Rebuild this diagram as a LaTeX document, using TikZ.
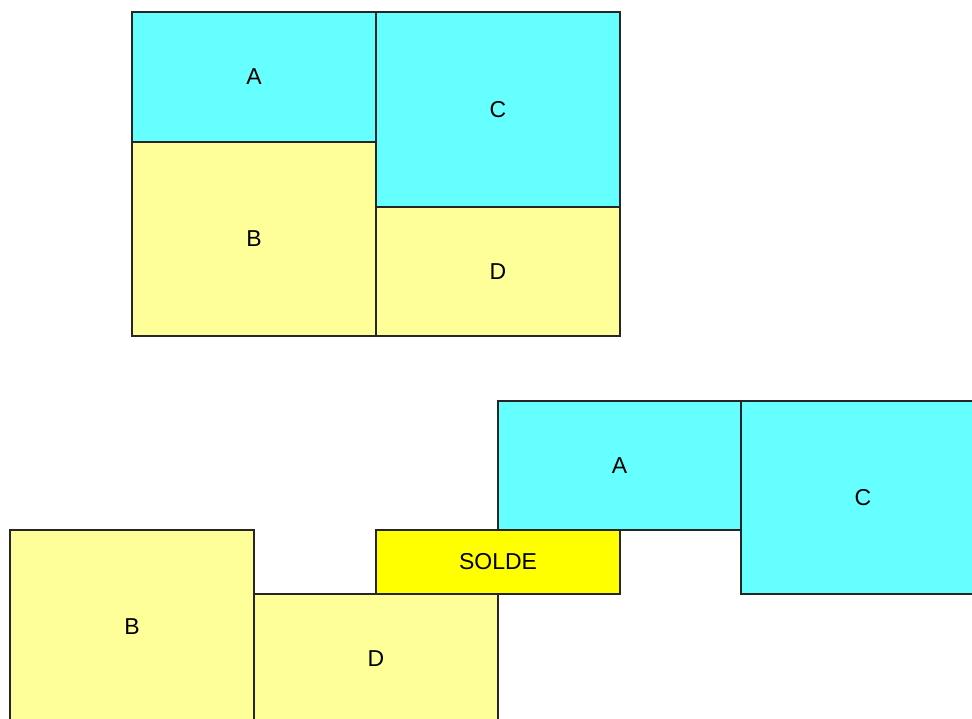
\documentclass[tikz,border=0pt]{standalone}
\usepackage{fontspec}
\setmainfont{Liberation Sans}
\definecolor{cyanbox}{HTML}{66FFFF}
\definecolor{paleyellow}{HTML}{FFFF99}
\definecolor{soldeyellow}{HTML}{FFFF00}
\tikzset{cell/.style={draw=black!85, line width=1.2pt, inner sep=0pt, outer sep=0pt,
  font=\fontsize{23}{27}\selectfont}}
\begin{document}
\begin{tikzpicture}[x=1pt, y=-1pt]
\useasboundingbox (0,0) rectangle (972,718);
\clip (0,0) rectangle (972,718);
% upper block
\foreach \n/\x/\y/\w/\h/\c/\t in {topA/254/77/244/130/cyanbox/A,
    topB/254/239/244/194/paleyellow/B,
    topC/498/109.5/244/195/cyanbox/C,
    topD/498/271.5/244/129/paleyellow/D}
  \node[cell, fill=\c, minimum width=\w pt, minimum height=\h pt] (\n) at (\x, \y) {\t};
% lower block, spread out
\foreach \n/\x/\y/\w/\h/\c/\t in {lowA/619.5/465.5/243/129/cyanbox/A,
    lowC/863/497.5/244/193/cyanbox/C,
    solde/498/562/244/64/soldeyellow/SOLDE,
    lowB/132/627/244/194/paleyellow/B,
    lowD/376/659/244/130/paleyellow/D}
  \node[cell, fill=\c, minimum width=\w pt, minimum height=\h pt] (\n) at (\x, \y) {\t};
\end{tikzpicture}
\end{document}
